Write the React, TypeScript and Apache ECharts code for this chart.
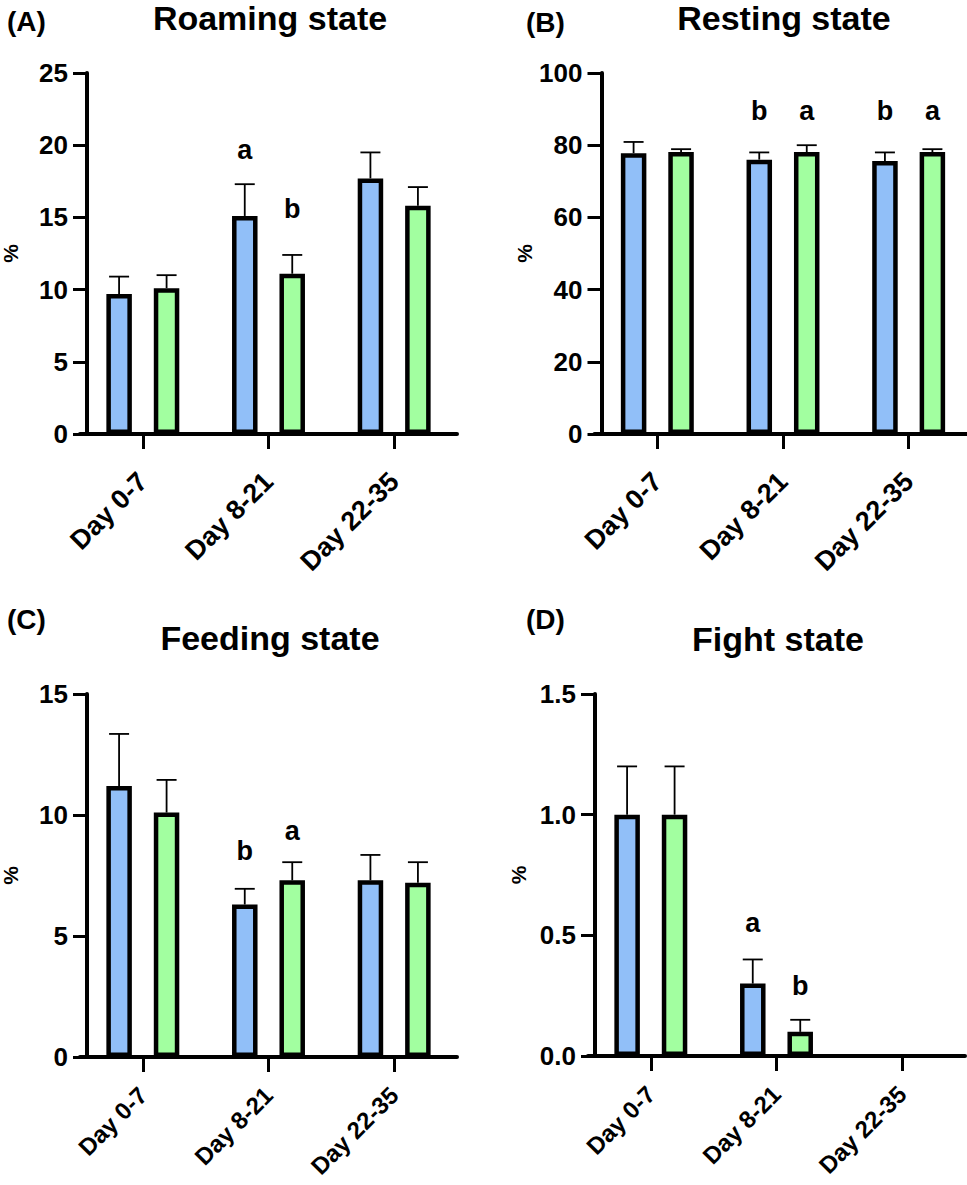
import React, { useEffect, useRef } from 'react';
import * as echarts from 'echarts';

const CATEGORIES = ['Day 0-7', 'Day 8-21', 'Day 22-35'];

// Roaming state (A)
const ROAM_BLUE = [9.7, 15.1, 17.7];
const ROAM_BLUE_SEM = [1.2, 2.2, 1.8];
const ROAM_GREEN = [10.1, 11.1, 15.8];
const ROAM_GREEN_SEM = [0.9, 1.3, 1.3];
const ROAM_TICKS = { max: 25, interval: 5, decimals: 0 };
const ROAM_LETTERS = [
  { cat: 1, group: 0, text: 'a', y: 19.7 },
  { cat: 1, group: 1, text: 'b', y: 15.6 },
];

// Resting state (B)
const REST_BLUE = [77.8, 76.0, 75.6];
const REST_BLUE_SEM = [3.1, 2.0, 2.4];
const REST_GREEN = [78.1, 78.1, 78.1];
const REST_GREEN_SEM = [0.8, 1.9, 0.8];
const REST_TICKS = { max: 100, interval: 20, decimals: 0 };
const REST_LETTERS = [
  { cat: 1, group: 0, text: 'b', y: 89.4 },
  { cat: 1, group: 1, text: 'a', y: 89.4 },
  { cat: 2, group: 0, text: 'b', y: 89.4 },
  { cat: 2, group: 1, text: 'a', y: 89.4 },
];

// Feeding state (C)
const FEED_BLUE = [11.2, 6.3, 7.3];
const FEED_BLUE_SEM = [2.15, 0.65, 1.05];
const FEED_GREEN = [10.1, 7.3, 7.2];
const FEED_GREEN_SEM = [1.35, 0.75, 0.85];
const FEED_TICKS = { max: 15, interval: 5, decimals: 0 };
const FEED_LETTERS = [
  { cat: 1, group: 0, text: 'b', y: 8.5 },
  { cat: 1, group: 1, text: 'a', y: 9.35 },
];

// Fight state (D)
const FIGHT_BLUE = [1.0, 0.3, 0];
const FIGHT_BLUE_SEM = [0.2, 0.1, 0];
const FIGHT_GREEN = [1.0, 0.1, 0];
const FIGHT_GREEN_SEM = [0.2, 0.05, 0];
const FIGHT_TICKS = { max: 1.5, interval: 0.5, decimals: 1 };
const FIGHT_LETTERS = [
  { cat: 1, group: 0, text: 'a', y: 0.55 },
  { cat: 1, group: 1, text: 'b', y: 0.29 },
];

const TAGS = ['(A)', '(B)', '(C)', '(D)'];
const TITLES = ['Roaming state', 'Resting state', 'Feeding state', 'Fight state'];

const FONT = '"Liberation Sans", Arial, Helvetica, sans-serif';
const BLUE = '#91BFF8';
const GREEN = '#A2FFA0';
const BAR_WIDTH = 25.5;
const BAR_OFFSET = 23.75;

const LAYOUT = [
  { left: 80, top: 73, width: 377, height: 361, tagX: 7, tagY: 21, titleX: 270, titleY: 18, xFont: 27, xMargin: 43 },
  { left: 594.5, top: 73, width: 377, height: 361, tagX: 526, tagY: 22, titleX: 784, titleY: 18, xFont: 27, xMargin: 43 },
  { left: 80, top: 694, width: 377, height: 363, tagX: 7, tagY: 619, titleX: 270, titleY: 638, xFont: 24, xMargin: 34 },
  { left: 588, top: 694, width: 377, height: 362, tagX: 526, tagY: 619, titleX: 778, titleY: 639, xFont: 24, xMargin: 34 },
];

const PANELS = [
  { blue: ROAM_BLUE, blueSem: ROAM_BLUE_SEM, green: ROAM_GREEN, greenSem: ROAM_GREEN_SEM, ticks: ROAM_TICKS, letters: ROAM_LETTERS },
  { blue: REST_BLUE, blueSem: REST_BLUE_SEM, green: REST_GREEN, greenSem: REST_GREEN_SEM, ticks: REST_TICKS, letters: REST_LETTERS },
  { blue: FEED_BLUE, blueSem: FEED_BLUE_SEM, green: FEED_GREEN, greenSem: FEED_GREEN_SEM, ticks: FEED_TICKS, letters: FEED_LETTERS },
  { blue: FIGHT_BLUE, blueSem: FIGHT_BLUE_SEM, green: FIGHT_GREEN, greenSem: FIGHT_GREEN_SEM, ticks: FIGHT_TICKS, letters: FIGHT_LETTERS },
];

function errorSeries(idx: number, means: number[], sems: number[], offset: number) {
  const data = means
    .map((m, i) => [i, m, m + sems[i], sems[i]])
    .filter((d) => d[3] > 0);
  return {
    type: 'custom',
    xAxisIndex: idx,
    yAxisIndex: idx,
    z: 2,
    silent: true,
    encode: { x: 0, y: [1, 2] },
    data,
    renderItem: (params: any, api: any) => {
      const c = api.value(0);
      const m = api.coord([c, api.value(1)]);
      const t = api.coord([c, api.value(2)]);
      const x = m[0] + offset;
      const st = { stroke: '#000', lineWidth: 1.8 };
      return {
        type: 'group',
        children: [
          { type: 'line', shape: { x1: x, y1: m[1], x2: x, y2: t[1] }, style: st },
          { type: 'line', shape: { x1: x - 10, y1: t[1], x2: x + 10, y2: t[1] }, style: st },
        ],
      };
    },
  };
}

function letterSeries(idx: number, letters: any[]) {
  return {
    type: 'custom',
    xAxisIndex: idx,
    yAxisIndex: idx,
    z: 5,
    silent: true,
    encode: { x: 0, y: 1 },
    data: letters.map((l) => [l.cat, l.y, l.group]),
    renderItem: (params: any, api: any) => {
      const p = api.coord([api.value(0), api.value(1)]);
      const g = api.value(2);
      const letter = letters[params.dataIndex].text;
      return {
        type: 'text',
        x: p[0] + (g === 0 ? -BAR_OFFSET : BAR_OFFSET),
        y: p[1],
        style: {
          text: letter,
          fill: '#000',
          fontFamily: FONT,
          fontWeight: 'bold',
          fontSize: 27,
          textAlign: 'center',
          textVerticalAlign: 'middle',
        },
      };
    },
  };
}

function barData(values: number[]) {
  return values.map((v) => (v === 0 ? { value: v, itemStyle: { borderWidth: 0 } } : v));
}

export default function App() {
  const ref = useRef<HTMLDivElement>(null);
  useEffect(() => {
    document.body.style.margin = '0';
    if (!ref.current) return;
    const chart = echarts.init(ref.current, null, { renderer: 'svg' });

    const grid = LAYOUT.map((l) => ({
      left: l.left,
      top: l.top,
      width: l.width,
      height: l.height,
      containLabel: false,
      outerBoundsMode: 'none',
    }));
    const xAxis = PANELS.map((_, i) => ({
      type: 'category',
      gridIndex: i,
      data: CATEGORIES,
      axisLine: { show: true, lineStyle: { color: '#000', width: 4 } },
      axisTick: { show: true, alignWithLabel: true, length: 15, lineStyle: { color: '#000', width: 3 } },
      axisLabel: {
        rotate: 45,
        margin: LAYOUT[i].xMargin,
        fontFamily: FONT,
        fontWeight: 'bold',
        fontSize: LAYOUT[i].xFont,
        color: '#000',
        interval: 0,
      },
      splitLine: { show: false },
    }));
    const yAxis = PANELS.map((p, i) => ({
      type: 'value',
      gridIndex: i,
      min: 0,
      max: p.ticks.max,
      interval: p.ticks.interval,
      offset: -7,
      name: '%',
      nameLocation: 'middle',
      nameRotate: 90,
      nameGap: 66,
      nameTextStyle: { fontFamily: FONT, fontWeight: 'bold', fontSize: 21, color: '#000' },
      axisLine: { show: true, lineStyle: { color: '#000', width: 4 } },
      axisTick: { show: true, length: 14, lineStyle: { color: '#000', width: 3 } },
      axisLabel: {
        margin: 19,
        fontFamily: FONT,
        fontWeight: 'bold',
        fontSize: 26,
        color: '#000',
        formatter: (v: number) => v.toFixed(p.ticks.decimals),
      },
      splitLine: { show: false },
    }));

    const series: any[] = [];
    PANELS.forEach((p, i) => {
      series.push({
        type: 'bar',
        xAxisIndex: i,
        yAxisIndex: i,
        data: barData(p.blue),
        barWidth: BAR_WIDTH,
        barGap: '86%',
        z: 3,
        itemStyle: { color: BLUE, borderColor: '#000', borderWidth: 4.5 },
      });
      series.push({
        type: 'bar',
        xAxisIndex: i,
        yAxisIndex: i,
        data: barData(p.green),
        barWidth: BAR_WIDTH,
        barGap: '86%',
        z: 3,
        itemStyle: { color: GREEN, borderColor: '#000', borderWidth: 4.5 },
      });
      series.push(errorSeries(i, p.blue, p.blueSem, -BAR_OFFSET));
      series.push(errorSeries(i, p.green, p.greenSem, BAR_OFFSET));
      series.push(letterSeries(i, p.letters));
    });

    const graphic: any[] = [];
    LAYOUT.forEach((l, i) => {
      graphic.push({
        type: 'text',
        x: l.tagX,
        y: l.tagY,
        style: {
          text: TAGS[i],
          fontFamily: FONT,
          fontWeight: 'bold',
          fontSize: 28,
          fill: '#000',
          textAlign: 'left',
          textVerticalAlign: 'middle',
        },
      });
      graphic.push({
        type: 'text',
        x: l.titleX,
        y: l.titleY,
        style: {
          text: TITLES[i],
          fontFamily: FONT,
          fontWeight: 'bold',
          fontSize: 34,
          fill: '#000',
          textAlign: 'center',
          textVerticalAlign: 'middle',
        },
      });
    });

    chart.setOption({
      animation: false,
      backgroundColor: '#fff',
      grid,
      xAxis,
      yAxis,
      series,
      graphic,
    });
    return () => chart.dispose();
  }, []);
  return <div ref={ref} style={{ width: 967, height: 1185 }} />;
}
